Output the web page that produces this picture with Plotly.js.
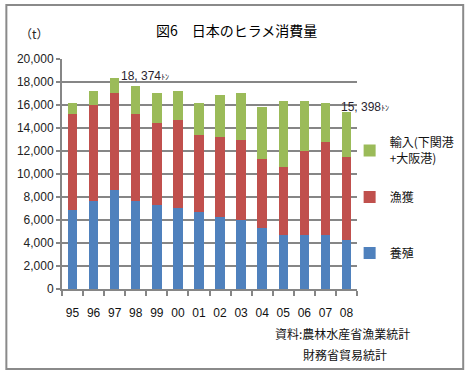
<!DOCTYPE html>
<html><head><meta charset="utf-8">
<script src="https://cdn.plot.ly/plotly-3.0.1.min.js"></script>
<style>html,body{margin:0;padding:0;background:#fff}#c{width:472px;height:377px}</style>
</head><body><div id="c"></div>
<script>
const years = ['95','96','97','98','99','00','01','02','03','04','05','06','07','08'];
const culture = [6900,7650,8600,7650,7300,7070,6720,6260,6030,5330,4700,4700,4700,4290];
const catch_ = [8300,8350,8440,7600,7130,7630,6670,6940,6930,5950,5900,7300,8080,7190];
const imports = [950,1200,1334,2400,2610,2500,2780,3670,4080,4550,5750,4350,3390,3918];
const yTicks = [0,2000,4000,6000,8000,10000,12000,14000,16000,18000,20000];
const yTickText = ['0','2,000','4,000','6,000','8,000','10,000','12,000','14,000','16,000','18,000','20,000'];
const seriesNames = ['養殖','漁獲','輸入(下関港<br>+大阪港)'];
const colors = ['#4F81BD','#C0504D','#9BBB59'];
const labelIdx = [2, 13];
const labelText = ['18, 374','15, 398'];

const jp = '"Noto Sans CJK JP", sans-serif';
const num = '"Liberation Sans", Arial, sans-serif';
const legendKeys = ['legend3','legend2','legend'];

const data = [culture, catch_, imports].map((v,i)=>({
  type:'bar', x:years, y:v, name:seriesNames[i], marker:{color:colors[i]},
  legend:legendKeys[i], hoverinfo:'none'
}));

const totals = years.map((_,i)=>culture[i]+catch_[i]+imports[i]);

function leg(yPx){
  return {x:0.975, y:(289-yPx)/230, xanchor:'left', yanchor:'middle',
    font:{family:jp, size:12, color:'#111'}, bgcolor:'rgba(0,0,0,0)'};
}

const layout = {
  width:472, height:377,
  margin:{l:62, r:113, t:59, b:88},
  paper_bgcolor:'#fff', plot_bgcolor:'#fff',
  barmode:'stack', bargap:0.55,
  showlegend:true,
  legend:leg(151), legend2:leg(197), legend3:leg(253),
  xaxis:{type:'category', range:[-0.5,13.5], tickson:'boundaries', ticks:'outside', ticklen:5, tickcolor:'#868686', tickwidth:2,
    showline:true, linecolor:'#868686', linewidth:2, tickfont:{family:num, size:12, color:'#111'},
    ticklabelstandoff:12, showgrid:false, fixedrange:true, tickangle:0},
  yaxis:{range:[0,20000], tickvals:yTicks, ticktext:yTickText, ticks:'outside', ticklen:4, tickcolor:'#868686', tickwidth:2,
    showline:true, linecolor:'#868686', linewidth:2, gridcolor:'#868686', gridwidth:2, zeroline:false,
    tickfont:{family:num, size:12, color:'#222'}, fixedrange:true},
  shapes:[{type:'rect', xref:'paper', yref:'paper', x0:-0.1886, x1:1.360, y0:-0.3478, y1:1.2348,
    line:{color:'#8a8a8a', width:2}, fillcolor:'rgba(0,0,0,0)', layer:'below'}],
  annotations:[
    {xref:'paper', yref:'paper', x:(238-62)/297, y:(289-30)/230, text:'図6　日本のヒラメ消費量', showarrow:false,
      xanchor:'center', yanchor:'middle', font:{family:jp, size:14, color:'#000'}},
    {xref:'paper', yref:'paper', x:(34-62)/297, y:(289-33)/230, text:'（t）', showarrow:false,
      xanchor:'center', yanchor:'middle', font:{family:jp, size:12, color:'#222'}},
    {x:labelIdx[0], y:totals[labelIdx[0]], text:labelText[0]+'<span style="font-size:8px">ﾄﾝ</span>', showarrow:false, xanchor:'left', yanchor:'middle',
      xshift:4, yshift:2, font:{family:num, size:12, color:'#2a1f2f'}},
    {x:labelIdx[1], y:totals[labelIdx[1]], text:labelText[1]+'<span style="font-size:8px">ﾄﾝ</span>', showarrow:false, xanchor:'left', yanchor:'middle',
      xshift:-7, yshift:5, font:{family:num, size:12, color:'#2a1f2f'}},
    {xref:'paper', yref:'paper', x:(344-62)/297, y:(289-333)/230, text:'資料:農林水産省漁業統計', showarrow:false,
      xanchor:'center', yanchor:'middle', font:{family:jp, size:12, color:'#111'}},
    {xref:'paper', yref:'paper', x:(347-62)/297, y:(289-354)/230, text:'財務省貿易統計', showarrow:false,
      xanchor:'center', yanchor:'middle', font:{family:jp, size:12, color:'#111'}}
  ]
};
Plotly.newPlot('c', data, layout, {displayModeBar:false, staticPlot:true});
</script></body></html>
